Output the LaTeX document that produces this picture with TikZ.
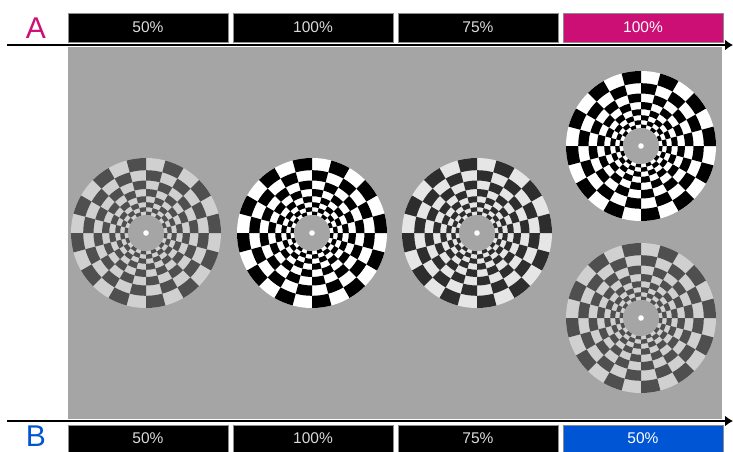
\documentclass[tikz,border=0pt]{standalone}
\usepackage{fontspec}
\setmainfont{Liberation Sans}
\usetikzlibrary{arrows.meta,positioning}
\definecolor{bg}{HTML}{A5A5A5}
\definecolor{m}{HTML}{CC0F74}
\definecolor{bl}{HTML}{0055D4}
\definecolor{txt}{HTML}{DADADA}
\definecolor{d50}{HTML}{4F4F4F}
\definecolor{l50}{HTML}{D0D0D0}
\definecolor{d75}{HTML}{2D2D2D}
\definecolor{l75}{HTML}{E6E6E6}
% checkerboard disk: center, dark, light
\newcommand{\checkdisk}[3]{%
  \begin{scope}[shift={#1}]
    \fill[#3] (0,0) circle (75);
    \foreach \ri/\ro [count=\k] in {18/21.6,21.6/25.8,25.8/30.8,30.8/36.8,36.8/44,44/52.5,52.5/62.8,62.8/75} {
      \foreach \s [evaluate=\s as \a using \s*15, evaluate=\s as \b using \s*15+15] in {0,...,23} {
        \pgfmathtruncatemacro{\odd}{mod(\k+\s,2)}
        \ifnum\odd=1
          \fill[#2] (\a:\ri) arc (\a:\b:\ri) -- (\b:\ro) arc (\b:\a:\ro) -- cycle;
        \fi
      }
    }
    \fill[bg] (0,0) circle (18);
    \fill[white] (0,0) circle (2.8);
  \end{scope}}

\begin{document}
\begin{tikzpicture}[x=1pt,y=-1pt,
  pctbox/.style={draw=black!45,line width=0.6pt,fill=black,text=txt,
    minimum width=160pt,inner sep=0pt,outer sep=0pt,font=\fontsize{15.5}{15.5}\selectfont},
  axis/.style={line width=2.4pt,-{Latex[length=8pt,width=11pt]}},
  grp/.style={font=\fontsize{30}{30}\selectfont,inner sep=0pt}]
  \useasboundingbox (0,0) rectangle (733,452);
  \fill[bg] (68,47) rectangle (722,419);
  % top row
  \node[grp,text=m] (A) at (36,28.5) {A};
  \node[pctbox,minimum height=29pt] (a1) at (148,27.5) {50\%};
  \node[pctbox,minimum height=29pt,right=5pt of a1] (a2) {100\%};
  \node[pctbox,minimum height=29pt,right=5pt of a2] (a3) {75\%};
  \node[pctbox,minimum height=29pt,right=5pt of a3,fill=m,text=white] (a4) {100\%};
  % bottom row
  \node[grp,text=bl] (B) at (36,436.5) {B};
  \node[pctbox,minimum height=27pt] (b1) at (148,438.5) {50\%};
  \node[pctbox,minimum height=27pt,right=5pt of b1] (b2) {100\%};
  \node[pctbox,minimum height=27pt,right=5pt of b2] (b3) {75\%};
  \node[pctbox,minimum height=27pt,right=5pt of b3,fill=bl,text=white] (b4) {50\%};
  % axes
  \coordinate (ta) at (7,45);
  \coordinate (te) at (733,45);
  \coordinate (ba) at (7,421);
  \coordinate (be) at (733,421);
  \draw[axis] (ta) -- (te);
  \draw[axis] (ba) -- (be);
  % disks
  \checkdisk{(146,233)}{d50}{l50}
  \checkdisk{(312,233)}{black}{white}
  \checkdisk{(477,233)}{d75}{l75}
  \checkdisk{(641,146)}{black}{white}
  \checkdisk{(641,318)}{d50}{l50}
\end{tikzpicture}
\end{document}
